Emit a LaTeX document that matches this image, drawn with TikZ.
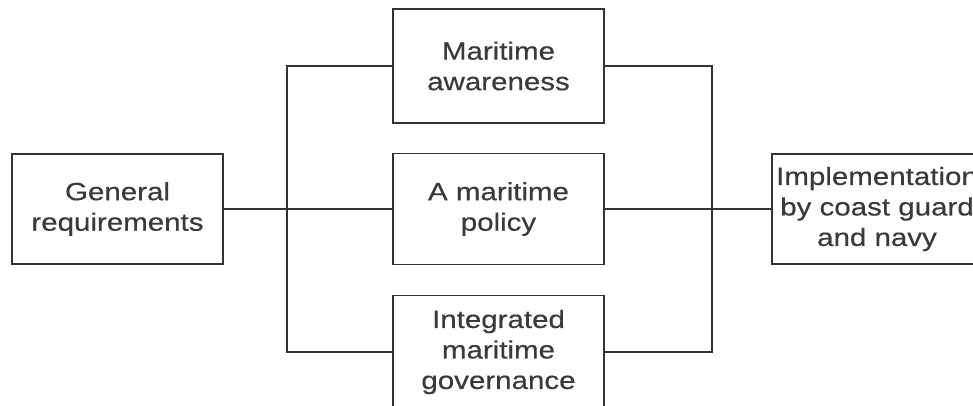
\documentclass[tikz,border=0pt]{standalone}
\usepackage{fontspec}
\setmainfont[FakeStretch=1.18,FakeBold=0.4]{Liberation Sans}
\begin{document}
\begin{tikzpicture}[x=1pt,y=-1pt,
  box/.style={draw=linegray,line width=1.4pt,minimum width=211pt,inner sep=0pt,
    align=center,text=textgray,font=\fontsize{25}{30.5}\selectfont},
  conn/.style={draw=linegray,line width=1.4pt}]
\definecolor{linegray}{HTML}{333333}
\definecolor{textgray}{HTML}{3A3A3A}
\useasboundingbox (0,0) rectangle (973,405);
\clip (0,0) rectangle (973,405);
\node[box,minimum height=110pt] (gen) at (117.5,209) {General\\requirements};
\node[box,minimum height=114pt] (aware) at (498.5,66) {Maritime\\awareness};
\node[box,minimum height=111pt] (policy) at (498.5,209) {A maritime\\policy};
\node[box,minimum height=113pt] (integ) at (498.5,352) {Integrated\\maritime\\governance};
\node[box,minimum width=210pt,minimum height=110pt] (impl) at (877,209) {Implementation\\by coast guard\\and navy};
\coordinate (jlt) at (287,66);
\coordinate (jlb) at (287,352);
\coordinate (jrt) at (712,66);
\coordinate (jrb) at (712,352);
\draw[conn] (gen.east) -- (policy.west);
\draw[conn] (aware.west) -- (jlt) -- (jlb) -- (integ.west);
\draw[conn] (aware.east) -- (jrt) -- (jrb) -- (integ.east);
\draw[conn] (policy.east) -- (impl.west);
\end{tikzpicture}
\end{document}
